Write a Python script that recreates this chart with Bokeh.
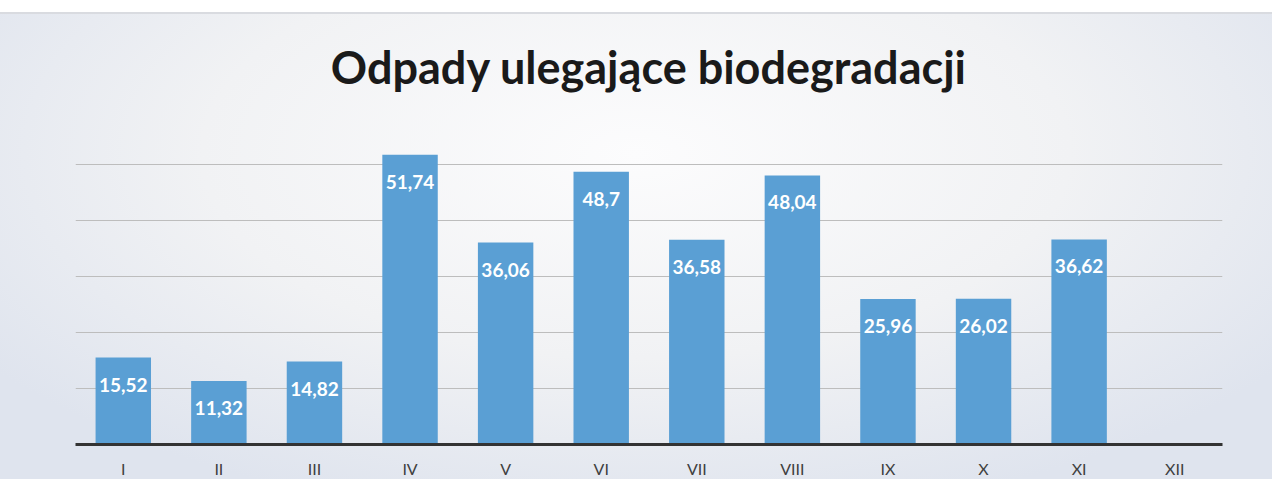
from bokeh.plotting import figure
from bokeh.models import ColumnDataSource, Spacer, Title
from bokeh.layouts import column
from bokeh.core.properties import value
from bokeh.embed import file_html
from bokeh.resources import INLINE

months = ["I", "II", "III", "IV", "V", "VI", "VII", "VIII", "IX", "X", "XI", "XII"]
bar_months = ["I", "II", "III", "IV", "V", "VI", "VII", "VIII", "IX", "X", "XI"]
values = [15.52, 11.32, 14.82, 51.74, 36.06, 48.7, 36.58, 48.04, 25.96, 26.02, 36.62]
labels = [str(v).replace(".", ",") for v in values]
title_text = "Odpady ulegające biodegradacji"

src = ColumnDataSource(dict(x=bar_months, top=values, label=labels))

p = figure(x_range=months, y_range=(0, 60), width=1272, height=467,
           output_backend="svg", toolbar_location=None, tools="",
           min_border_left=75, min_border_right=50, min_border_top=94,
           min_border_bottom=37)

p.styles = {"background": "radial-gradient(ellipse 62% 80% at 50% 30%, #fcfcfd 0%, #f1f2f4 55%, #dfe4ee 100%)",
            "border-top": "2px solid #d9dbe0"}
p.border_fill_color = None
p.background_fill_color = None
p.outline_line_color = None

t = Title(text=title_text, align="center", text_font="Lato",
          text_font_style="bold", text_font_size="45px", text_color="#1a1a1a",
          standoff=30)
p.add_layout(t, "above")

p.vbar(x="x", top="top", width=0.58, bottom=0, source=src,
       fill_color="#5a9fd4", line_color=None)

p.text(x="x", y="top", text="label", source=src, text_align="center",
       text_baseline="middle", y_offset=27, text_color="white",
       text_font=value("Lato"), text_font_style="bold", text_font_size="19px")

p.yaxis.visible = False
p.ygrid.ticker = [0, 10, 20, 30, 40, 50, 60]
p.ygrid.grid_line_color = "#bdbdbd"
p.ygrid.grid_line_width = 1
p.xgrid.grid_line_color = None
p.x_range.range_padding = 0

p.xaxis.axis_line_color = "#333333"
p.xaxis.axis_line_width = 3
p.xaxis.major_tick_line_color = None
p.xaxis.minor_tick_line_color = None
p.xaxis.major_tick_in = 0
p.xaxis.major_tick_out = 0
p.xaxis.minor_tick_out = 0
p.xaxis.major_label_standoff = 14
p.xaxis.major_label_text_font = "Lato"
p.xaxis.major_label_text_font_size = "16px"
p.xaxis.major_label_text_color = "#404040"

layout = column(Spacer(height=12, width=1272), p)

open("out.html", "w").write(file_html(layout, INLINE))
